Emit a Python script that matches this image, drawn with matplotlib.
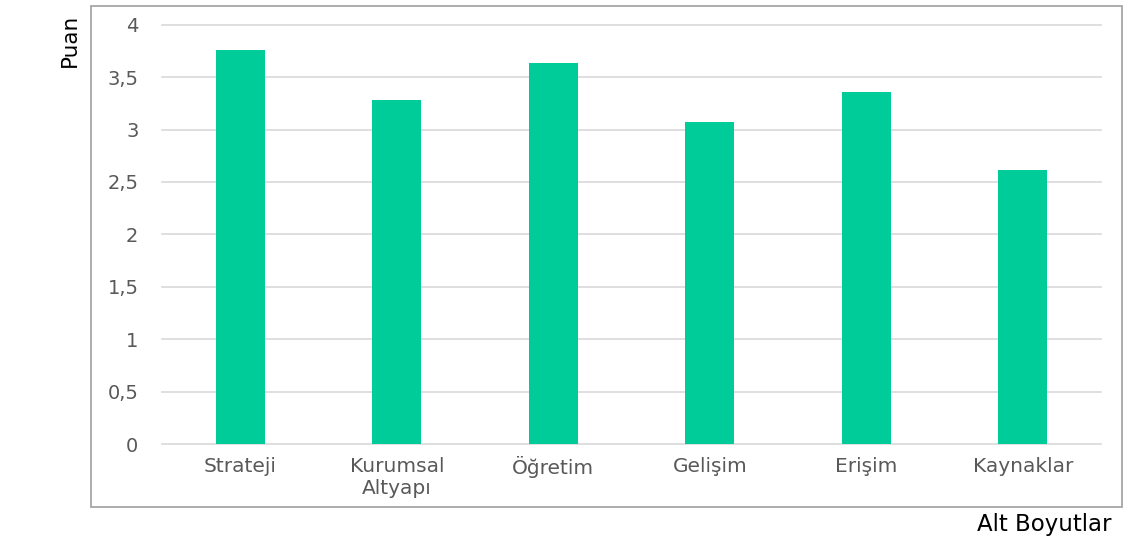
import matplotlib.pyplot as plt
from matplotlib.patches import Rectangle

# Alt boyut puanları
kategoriler = ['Strateji', 'Kurumsal\nAltyapı', 'Öğretim', 'Gelişim', 'Erişim', 'Kaynaklar']
puanlar = [3.76, 3.28, 3.63, 3.07, 3.36, 2.61]
y_ticks = [0, 0.5, 1, 1.5, 2, 2.5, 3, 3.5, 4]
y_etiketler = ['0', '0,5', '1', '1,5', '2', '2,5', '3', '3,5', '4']

W, H = 1131, 544
fig = plt.figure(figsize=(W / 100, H / 100), dpi=100)
fig.patch.set_facecolor('white')

# Grafik alanı
ax = fig.add_axes([162 / W, 1 - 444 / H, 939 / W, (444 - 24.7) / H])
x = range(len(kategoriler))
ax.bar(x, puanlar, width=0.31, color='#00cc99', zorder=3)

ax.set_xlim(-0.5, len(kategoriler) - 0.5)
ax.set_ylim(0, 4)
ax.set_yticks(y_ticks)
ax.set_yticklabels(y_etiketler)
ax.set_xticks(list(x))
ax.set_xticklabels(kategoriler)
ax.grid(axis='y', color='#d9d9d9', linewidth=1.2, zorder=0)
for g in ax.get_ygridlines():
    g.set_clip_on(False)
ax.tick_params(axis='x', length=0, pad=9, labelsize=14.5, labelcolor='#595959')
ax.tick_params(axis='y', length=0, pad=17, labelsize=14, labelcolor='#595959')
for s in ax.spines.values():
    s.set_visible(False)

# Dış çerçeve
fig.patches.append(Rectangle((90.7 / W, 1 - 507 / H), (1122 - 90.7) / W, (507 - 6) / H,
                             transform=fig.transFigure, fill=False,
                             edgecolor='#a6a6a6', linewidth=1.3))

# Eksen başlıkları
fig.text(70 / W, 1 - 40 / H, 'Puan', rotation=90, ha='center', va='center',
         fontsize=15.5, color='black')
fig.text(1044 / W, 1 - 525 / H, 'Alt Boyutlar', ha='center', va='center',
         fontsize=16.5, color='black')

plt.savefig('out.png', dpi=100)
